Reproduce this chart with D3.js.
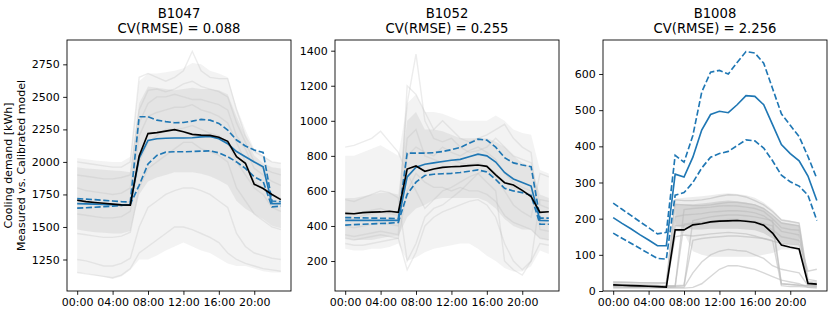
<!DOCTYPE html>
<html>
<head>
<meta charset="utf-8">
<script src="https://cdn.jsdelivr.net/npm/d3@7"></script>
<style>
  body { margin: 0; background: #ffffff; }
  svg { display: block; }
</style>
</head>
<body>
<svg id="chart" width="830" height="313"></svg>
<script>
// hour of day for every value below
const hours = [0, 1, 2, 3, 4, 5, 6, 7, 8, 9, 10, 11, 12, 13, 14, 15, 16, 17, 18, 19, 20, 21, 22, 23];
const xTickValues = [0, 4, 8, 12, 16, 20];
const xTickLabels = ["00:00", "04:00", "08:00", "12:00", "16:00", "20:00"];

const buildings = ["B1047", "B1052", "B1008"];
const cvRmse = ["0.088", "0.255", "2.256"];
const yTicks = [
  [1250, 1500, 1750, 2000, 2250, 2500, 2750],
  [200, 400, 600, 800, 1000, 1200, 1400],
  [0, 100, 200, 300, 400, 500, 600]
];
const yLimits = [[1008, 2937], [29, 1461], [0, 694]];

// ---- B1047 ----
const b1047Measured = [1705, 1695, 1688, 1682, 1676, 1670, 1668, 2045, 2218, 2225, 2237, 2248, 2232, 2212, 2206, 2204, 2190, 2158, 2040, 1990, 1828, 1796, 1750, 1710];
const b1047Median = [1680, 1678, 1676, 1674, 1672, 1670, 1672, 2030, 2165, 2178, 2182, 2184, 2184, 2186, 2192, 2196, 2178, 2140, 2080, 2040, 2000, 1962, 1680, 1680];
const b1047Upper = [1718, 1714, 1710, 1705, 1700, 1695, 1692, 2347, 2347, 2321, 2310, 2301, 2303, 2314, 2327, 2321, 2296, 2245, 2168, 2123, 2091, 2073, 1700, 1695];
const b1047Lower = [1645, 1648, 1652, 1656, 1660, 1665, 1675, 1820, 1985, 2050, 2075, 2078, 2078, 2080, 2083, 2085, 2070, 2040, 2000, 1950, 1885, 1850, 1655, 1660];
const b1047GrayHi = [2030, 2020, 2010, 2005, 2000, 2000, 2040, 2620, 2680, 2680, 2690, 2700, 2720, 2760, 2750, 2700, 2680, 2650, 2420, 2250, 2100, 2050, 2000, 1990];
const b1047GrayLo = [1150, 1145, 1130, 1115, 1100, 1120, 1170, 1250, 1250, 1280, 1320, 1350, 1380, 1350, 1320, 1300, 1260, 1220, 1200, 1200, 1180, 1160, 1150, 1150];
const b1047DenseHi = [1960, 1950, 1945, 1940, 1935, 1930, 1920, 2450, 2580, 2570, 2560, 2550, 2560, 2570, 2560, 2560, 2550, 2520, 2350, 2200, 2050, 1990, 1960, 1950];
const b1047DenseLo = [1480, 1470, 1460, 1455, 1450, 1450, 1470, 1750, 1850, 1880, 1900, 1920, 1920, 1920, 1910, 1890, 1860, 1820, 1700, 1640, 1600, 1560, 1510, 1490];
const b1047Days = [
  [1900, 1890, 1880, 1870, 1870, 1880, 1900, 2400, 2550, 2560, 2540, 2560, 2600, 2620, 2580, 2560, 2540, 2500, 2300, 2150, 2000, 1950, 1920, 1900],
  [1700, 1690, 1680, 1670, 1660, 1660, 1700, 2200, 2350, 2380, 2400, 2420, 2420, 2440, 2400, 2380, 2350, 2300, 2150, 2000, 1850, 1800, 1750, 1720],
  [1600, 1590, 1580, 1570, 1570, 1580, 1620, 2000, 2150, 2200, 2250, 2250, 2260, 2280, 2250, 2220, 2200, 2150, 2000, 1900, 1800, 1750, 1650, 1620],
  [1250, 1240, 1220, 1200, 1200, 1220, 1260, 1500, 1650, 1700, 1750, 1780, 1800, 1800, 1780, 1750, 1700, 1650, 1450, 1350, 1300, 1280, 1260, 1250],
  [1150, 1140, 1130, 1120, 1110, 1130, 1180, 1300, 1350, 1400, 1450, 1500, 1500, 1480, 1450, 1420, 1380, 1300, 1250, 1220, 1200, 1180, 1170, 1160],
  [2000, 1990, 1980, 1970, 1960, 1960, 2000, 2650, 2680, 2650, 2620, 2650, 2700, 2850, 2700, 2650, 2640, 2640, 2400, 2200, 2080, 2040, 2000, 1990],
  [1800, 1780, 1770, 1760, 1750, 1760, 1800, 2300, 2450, 2500, 2500, 2520, 2500, 2480, 2480, 2460, 2440, 2400, 2200, 2100, 1950, 1900, 1850, 1820],
  [1450, 1440, 1430, 1420, 1420, 1430, 1460, 1800, 1950, 2000, 2050, 2100, 2150, 2150, 2100, 2080, 2050, 2000, 1800, 1700, 1600, 1550, 1500, 1480]
];

// ---- B1052 ----
const b1052Measured = [472, 470, 476, 479, 480, 484, 478, 725, 742, 712, 725, 734, 738, 740, 744, 748, 740, 692, 647, 634, 603, 568, 478, 481];
const b1052Median = [432, 432, 432, 432, 432, 432, 432, 680, 735, 752, 760, 768, 775, 780, 795, 810, 800, 765, 705, 668, 648, 628, 432, 430];
const b1052Upper = [448, 447, 446, 445, 444, 443, 442, 815, 816, 816, 818, 825, 835, 848, 872, 895, 890, 850, 790, 760, 748, 738, 445, 445];
const b1052Lower = [405, 408, 410, 412, 414, 416, 420, 580, 650, 688, 695, 698, 700, 705, 712, 720, 708, 665, 615, 600, 590, 575, 410, 410];
const b1052GrayHi = [800, 800, 820, 840, 860, 830, 800, 1100, 1150, 1050, 1050, 1040, 1020, 1000, 1000, 1000, 1000, 1030, 1000, 950, 930, 920, 720, 700];
const b1052GrayLo = [270, 260, 260, 270, 270, 280, 300, 200, 220, 250, 270, 280, 290, 300, 300, 270, 230, 200, 160, 140, 140, 170, 260, 240];
const b1052DenseHi = [560, 560, 570, 580, 590, 590, 580, 1000, 1050, 950, 950, 940, 920, 900, 900, 900, 900, 880, 850, 800, 760, 740, 580, 560];
const b1052DenseLo = [330, 320, 320, 320, 330, 340, 340, 450, 500, 520, 550, 560, 560, 560, 560, 560, 540, 500, 440, 400, 380, 380, 330, 320];
const b1052Days = [
  [480, 470, 480, 490, 500, 480, 470, 1100, 1380, 1000, 900, 880, 900, 850, 820, 830, 850, 900, 850, 800, 780, 760, 520, 500],
  [400, 390, 400, 410, 420, 410, 400, 900, 950, 800, 780, 760, 780, 760, 750, 760, 740, 700, 650, 620, 600, 580, 420, 410],
  [300, 290, 290, 300, 310, 320, 330, 600, 700, 650, 620, 620, 600, 620, 600, 600, 580, 540, 460, 420, 400, 380, 330, 320],
  [850, 860, 880, 900, 940, 880, 820, 700, 600, 500, 550, 600, 620, 650, 680, 700, 720, 680, 600, 520, 480, 450, 700, 680],
  [550, 540, 560, 580, 600, 590, 560, 200, 300, 450, 500, 520, 560, 600, 650, 700, 650, 600, 200, 150, 120, 200, 550, 540],
  [350, 340, 350, 360, 370, 360, 350, 1200, 1150, 1050, 950, 1000, 950, 900, 880, 900, 920, 950, 980, 900, 850, 820, 380, 370],
  [450, 440, 460, 470, 480, 470, 460, 800, 850, 820, 800, 850, 820, 800, 830, 850, 820, 780, 700, 650, 620, 600, 450, 440],
  [330, 320, 330, 340, 350, 340, 330, 150, 250, 400, 450, 480, 500, 520, 540, 550, 520, 450, 300, 200, 150, 200, 300, 290]
];

// ---- B1008 ----
const b1008Measured = [17, 16, 15, 14, 13, 12, 11, 169, 169, 183, 186, 191, 193, 194, 195, 193, 190, 182, 160, 127, 121, 116, 21, 19];
const b1008Median = [203, 187, 172, 156, 141, 125, 125, 323, 315, 370, 445, 488, 497, 493, 515, 540, 538, 515, 460, 405, 380, 360, 318, 250];
const b1008Upper = [243, 226, 209, 192, 175, 158, 162, 375, 356, 430, 550, 605, 610, 600, 632, 662, 658, 630, 560, 490, 458, 427, 372, 311];
const b1008Lower = [160, 146, 132, 118, 104, 90, 88, 265, 272, 300, 340, 370, 380, 386, 402, 418, 415, 395, 360, 320, 302, 290, 265, 195];
const b1008GrayHi = [null, null, null, null, null, null, null, 255, 258, 260, 262, 265, 268, 270, 268, 265, 258, 245, 225, 200, 195, 190, null, null];
const b1008GrayLo = [null, null, null, null, null, null, null, 165, 160, 110, 100, 95, 95, 95, 95, 95, 95, 100, 105, 115, 115, 115, null, null];
const b1008DenseHi = [null, null, null, null, null, null, null, 240, 240, 240, 242, 245, 248, 250, 248, 245, 240, 230, 210, 190, 186, 182, null, null];
const b1008DenseLo = [null, null, null, null, null, null, null, 180, 175, 170, 170, 172, 172, 172, 172, 170, 168, 160, 145, 135, 132, 130, null, null];
const b1008Days = [
  [20, 19, 18, 17, 16, 15, 14, 240, 238, 236, 236, 238, 242, 245, 245, 242, 238, 228, 210, 188, 184, 180, 26, 24],
  [15, 15, 14, 14, 13, 13, 12, 205, 210, 212, 214, 218, 220, 222, 222, 220, 216, 208, 190, 165, 160, 155, 20, 18],
  [12, 12, 11, 11, 11, 10, 10, 12, 225, 228, 230, 232, 235, 236, 235, 232, 228, 220, 200, 175, 170, 168, 18, 16],
  [14, 14, 13, 13, 12, 12, 12, 12, 14, 195, 200, 205, 208, 210, 210, 208, 205, 200, 195, 20, 18, 16, 15, 14],
  [12, 12, 11, 11, 10, 10, 10, 150, 155, 152, 155, 158, 160, 162, 160, 158, 152, 145, 140, 15, 12, 12, 11, 10],
  [18, 18, 17, 17, 16, 16, 15, 15, 16, 140, 145, 148, 150, 152, 152, 150, 148, 145, 138, 132, 130, 128, 20, 18],
  [8, 8, 8, 8, 8, 8, 8, 8, 8, 10, 20, 40, 60, 70, 70, 65, 60, 50, 40, 30, 25, 20, 10, 8],
  [10, 10, 10, 10, 10, 10, 10, 10, 10, 50, 80, 100, 110, 115, 112, 110, 100, 90, 70, 60, 55, 50, 15, 12],
  [24, 24, 23, 23, 22, 22, 22, 252, 250, 250, 252, 256, 262, 266, 265, 260, 250, 238, 220, 196, 192, 188, 32, 28],
  [16, 16, 15, 15, 14, 14, 14, 14, 185, 188, 190, 192, 195, 198, 198, 195, 192, 186, 180, 20, 18, 16, 15, 14],
  [25, 24, 24, 23, 23, 22, 22, 180, 182, 185, 188, 190, 192, 195, 195, 192, 188, 180, 170, 150, 145, 140, 55, 60]
];

const panels = [
  { measured: b1047Measured, median: b1047Median, upper: b1047Upper, lower: b1047Lower,
    grayHi: b1047GrayHi, grayLo: b1047GrayLo, denseHi: b1047DenseHi, denseLo: b1047DenseLo, days: b1047Days },
  { measured: b1052Measured, median: b1052Median, upper: b1052Upper, lower: b1052Lower,
    grayHi: b1052GrayHi, grayLo: b1052GrayLo, denseHi: b1052DenseHi, denseLo: b1052DenseLo, days: b1052Days },
  { measured: b1008Measured, median: b1008Median, upper: b1008Upper, lower: b1008Lower,
    grayHi: b1008GrayHi, grayLo: b1008GrayLo, denseHi: b1008DenseHi, denseLo: b1008DenseLo, days: b1008Days }
];

const fontFamily = "'DejaVu Sans', sans-serif";
const blue = "#1f77b4";
const panelLeft = [67, 335, 603];
const panelWidth = 224;
const plotTop = 40;
const plotBottom = 291;
// the last building's profiles are packed much tighter, so they look darker
const outerOpacity = [0.2, 0.2, 0.3];
const denseOpacity = [0.3, 0.3, 0.6];
const dayOpacity = [0.28, 0.28, 0.6];

const svg = d3.select("#chart")
  .style("background-color", "#ffffff")
  .style("font-family", fontFamily);

panels.forEach((p, i) => {
  const left = panelLeft[i];

  const x = d3.scaleLinear()
    .domain([-1.15, 24.15])
    .range([left, left + panelWidth]);

  const y = d3.scaleLinear()
    .domain(yLimits[i])
    .range([plotBottom, plotTop]);

  svg.append("clipPath")
    .attr("id", "clip" + i)
    .append("rect")
    .attr("x", left)
    .attr("y", plotTop)
    .attr("width", panelWidth)
    .attr("height", plotBottom - plotTop);

  const plot = svg.append("g").attr("clip-path", "url(#clip" + i + ")");

  const band = (hi, lo) => d3.area()
    .defined((d, j) => hi[j] != null && lo[j] != null)
    .x(d => x(d))
    .y0((d, j) => y(lo[j]))
    .y1((d, j) => y(hi[j]));

  // spread of all the daily profiles
  plot.append("path")
    .attr("d", band(p.grayHi, p.grayLo)(hours))
    .style("fill", "#c4c4c4")
    .style("fill-opacity", outerOpacity[i]);

  plot.append("path")
    .attr("d", band(p.denseHi, p.denseLo)(hours))
    .style("fill", "#c4c4c4")
    .style("fill-opacity", denseOpacity[i]);

  const dayLine = d3.line()
    .defined(v => v != null)
    .x((v, j) => x(hours[j]))
    .y(v => y(v));

  p.days.forEach(day => {
    plot.append("path")
      .attr("d", dayLine(day))
      .style("fill", "none")
      .style("stroke", "#bcbcbc")
      .style("stroke-opacity", dayOpacity[i])
      .style("stroke-width", 1.4);
  });

  // calibrated model: median and bounds
  [p.upper, p.lower].forEach(s => {
    plot.append("path")
      .attr("d", dayLine(s))
      .style("fill", "none")
      .style("stroke", blue)
      .style("stroke-width", 1.65)
      .style("stroke-dasharray", "6.1,2.6");
  });

  plot.append("path")
    .attr("d", dayLine(p.median))
    .style("fill", "none")
    .style("stroke", blue)
    .style("stroke-width", 1.65);

  // measured
  plot.append("path")
    .attr("d", dayLine(p.measured))
    .style("fill", "none")
    .style("stroke", "#000000")
    .style("stroke-width", 1.65);

  // axes
  const xAxis = d3.axisBottom(x)
    .tickValues(xTickValues)
    .tickFormat((d, j) => xTickLabels[j])
    .tickSize(3.85)
    .tickPadding(3.5);

  const yAxis = d3.axisLeft(y)
    .tickValues(yTicks[i])
    .tickFormat(d3.format("d"))
    .tickSize(3.85)
    .tickPadding(3.5);

  const gx = svg.append("g")
    .attr("transform", "translate(0," + plotBottom + ")")
    .call(xAxis);

  const gy = svg.append("g")
    .attr("transform", "translate(" + left + ",0)")
    .call(yAxis);

  [gx, gy].forEach(g => {
    g.select(".domain").remove();
    g.selectAll("line").style("stroke", "#000").style("stroke-width", 0.88);
    g.selectAll("text")
      .style("fill", "#000")
      .style("font-size", "11px")
      .style("font-family", fontFamily);
  });

  svg.append("rect")
    .attr("x", left)
    .attr("y", plotTop)
    .attr("width", panelWidth)
    .attr("height", plotBottom - plotTop)
    .style("fill", "none")
    .style("stroke", "#000")
    .style("stroke-width", 0.88);

  // titles
  const cx = left + panelWidth / 2;
  svg.append("text")
    .attr("x", cx)
    .attr("y", 18)
    .attr("text-anchor", "middle")
    .style("font-size", "13.2px")
    .text(buildings[i]);

  svg.append("text")
    .attr("x", cx)
    .attr("y", 32.5)
    .attr("text-anchor", "middle")
    .style("font-size", "13.2px")
    .text("CV(RMSE) = " + cvRmse[i]);
});

const yLabelLines = ["Cooling demand [kWh]", "Measured vs. Calibrated model"];
yLabelLines.forEach((t, k) => {
  svg.append("text")
    .attr("transform", "translate(" + (12 + k * 13) + "," + ((plotTop + plotBottom) / 2) + ") rotate(-90)")
    .attr("text-anchor", "middle")
    .style("font-size", "11px")
    .text(t);
});
</script>
</body>
</html>
